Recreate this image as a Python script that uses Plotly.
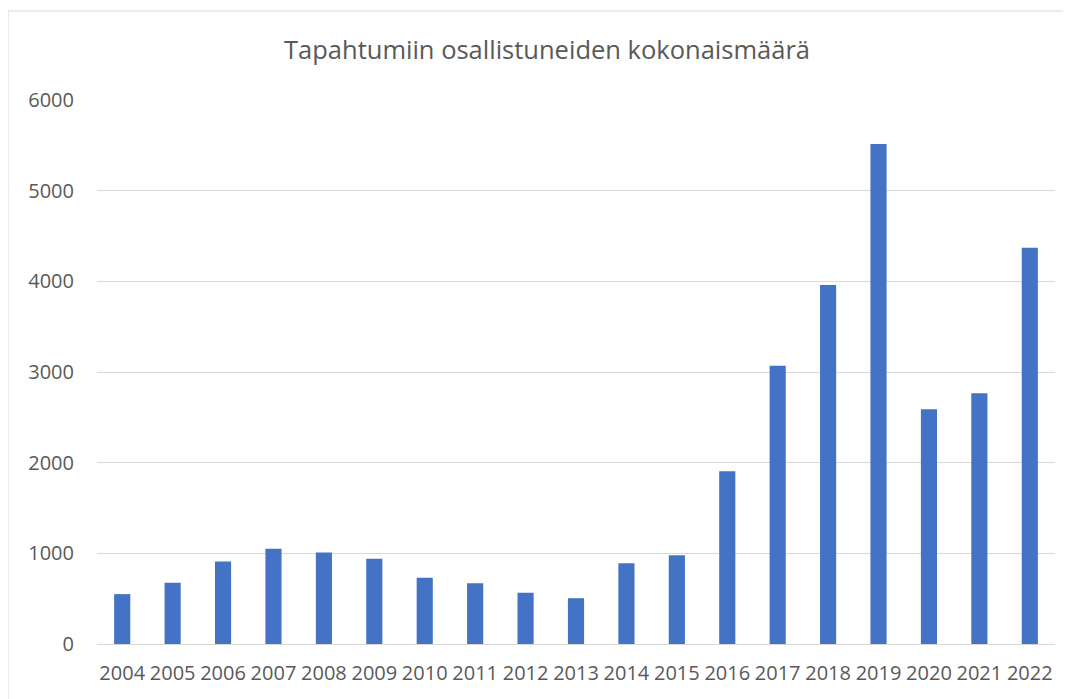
import plotly.graph_objects as go

years = ["2004", "2005", "2006", "2007", "2008", "2009", "2010", "2011", "2012", "2013",
         "2014", "2015", "2016", "2017", "2018", "2019", "2020", "2021", "2022"]
participants = [550, 675, 910, 1050, 1010, 940, 730, 670, 565, 505,
                890, 980, 1905, 3070, 3960, 5515, 2590, 2765, 4370]
y_ticks = [0, 1000, 2000, 3000, 4000, 5000, 6000]

# page body has an 8px margin; size the figure to fit inside the window
OFF = 8
W, H = 1071 - OFF, 699 - OFF
L, R, T, B = 97 - OFF, 16, 100 - OFF, 55
PW, PH = W - L - R, H - T - B

bx0 = (8 - OFF - L) / PW
by1 = 1 + (T - (11 - OFF)) / PH
border = dict(color="#d9d9d9", width=1)

fig = go.Figure(go.Bar(x=years, y=participants, marker=dict(color="#4472c4", line=dict(width=0)),
                       hoverinfo="x+y"))

fig.update_layout(
    width=W, height=H,
    margin=dict(l=L, r=R, t=T, b=B),
    paper_bgcolor="white", plot_bgcolor="white",
    bargap=0.68,
    showlegend=False,
    font=dict(family="Open Sans", color="#595959"),
    title=dict(text="Tapahtumiin osallistuneiden kokonaismäärä", x=(547 - OFF) / W, xanchor="center",
               y=1 - (50 - OFF) / H, yanchor="middle",
               font=dict(size=25.5, color="#595959", family="Open Sans")),
    shapes=[
        dict(type="line", xref="paper", yref="paper", x0=bx0, x1=1 + (R + 30) / PW, y0=by1, y1=by1,
             line=border, layer="below"),
        dict(type="line", xref="paper", yref="paper", x0=bx0, x1=bx0, y0=by1, y1=-(B + 30) / PH,
             line=border, layer="below"),
    ],
)
fig.update_yaxes(range=[0, 6000], tickvals=y_ticks, showgrid=True, gridcolor="#d9d9d9", gridwidth=1,
                 zeroline=False, showline=False, ticks="", tickfont=dict(size=20, color="#595959"),
                 ticklabelstandoff=22)
fig.update_xaxes(type="category", showline=True, linecolor="#d9d9d9", linewidth=1, ticks="",
                 tickfont=dict(size=20, color="#595959"), tickangle=0, ticklabelstandoff=11)

fig.write_html("out.html")
